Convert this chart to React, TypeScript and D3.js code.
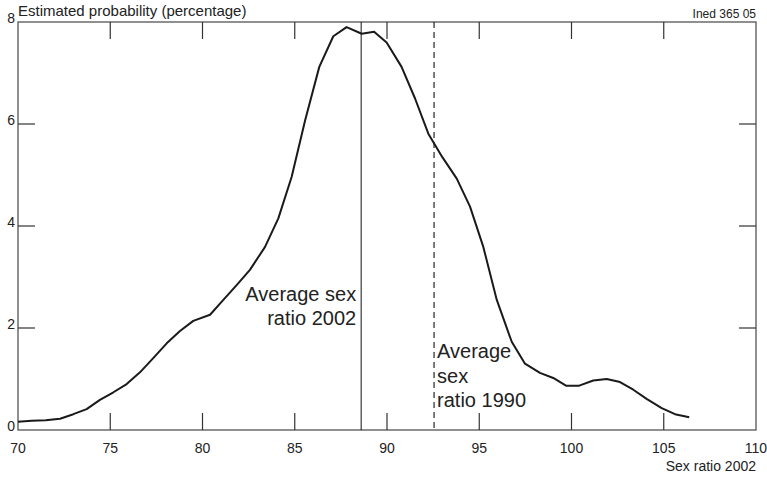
import React from 'react';
import * as d3 from 'd3';

// sex ratio 2002 (x) and estimated probability in % (y)
const sexRatio = [70.0, 70.74, 71.5, 72.28, 73.0, 73.72, 74.44, 75.17, 75.89, 76.61, 77.33, 78.06, 78.78, 79.5, 80.41, 81.13, 81.85, 82.57, 83.39, 84.11, 84.83, 85.56, 86.33, 87.09, 87.81, 88.63, 89.3, 89.98, 90.79, 91.52, 92.24, 93.0, 93.78, 94.5, 95.22, 95.95, 96.76, 97.48, 98.29, 99.01, 99.7, 100.42, 101.18, 101.91, 102.63, 103.35, 104.07, 104.89, 105.61, 106.38];
const probability = [0.16, 0.18, 0.19, 0.22, 0.31, 0.41, 0.59, 0.74, 0.9, 1.13, 1.41, 1.7, 1.94, 2.14, 2.26, 2.55, 2.84, 3.14, 3.59, 4.15, 4.96, 6.07, 7.12, 7.72, 7.9, 7.77, 7.81, 7.6, 7.12, 6.5, 5.81, 5.35, 4.93, 4.38, 3.59, 2.55, 1.73, 1.3, 1.12, 1.02, 0.87, 0.87, 0.97, 1.0, 0.94, 0.79, 0.61, 0.43, 0.31, 0.25];

const xTicks = [70, 75, 80, 85, 90, 95, 100, 105, 110];
const yTicks = [0, 2, 4, 6, 8];
const avg2002 = 88.6;
const avg1990 = 92.55;

const W = 767;
const H = 478;
const margin = { top: 22, right: 11, bottom: 48, left: 18 };
const font = '"Liberation Sans", Arial, sans-serif';

export default function App() {
  const x = d3.scaleLinear().domain([70, 110]).range([margin.left, W - margin.right]);
  const y = d3.scaleLinear().domain([0, 8]).range([H - margin.bottom, margin.top]);
  const pts = sexRatio.map((v, i) => [v, probability[i]] as [number, number]);
  const line = d3.line<[number, number]>().x(d => x(d[0])).y(d => y(d[1]));
  const tickLen = 17;
  const x0 = x(70), x1 = x(110), y0 = y(0), y1 = y(8);
  const inner = xTicks.filter(t => t > 70 && t < 110);
  const innerY = yTicks.filter(t => t > 0 && t < 8);

  return (
    <svg width={W} height={H} style={{ position: 'absolute', left: 0, top: 0, background: '#fff' }} fontFamily={font}>
      {/* frame */}
      <rect x={x0} y={y1} width={x1 - x0} height={y0 - y1} fill="none" stroke="#555" strokeWidth={1.3} />

      {/* inward ticks */}
      <g stroke="#333" strokeWidth={1.2}>
        {inner.map(t => (
          <g key={'xt' + t}>
            <line x1={x(t)} x2={x(t)} y1={y0} y2={y0 - tickLen} />
            <line x1={x(t)} x2={x(t)} y1={y1} y2={y1 + tickLen} />
          </g>
        ))}
        {innerY.map(t => (
          <g key={'yt' + t}>
            <line x1={x0} x2={x0 + tickLen} y1={y(t)} y2={y(t)} />
            <line x1={x1} x2={x1 - tickLen} y1={y(t)} y2={y(t)} />
          </g>
        ))}
      </g>

      {/* tick labels */}
      <g fontSize={14} fill="#222">
        {xTicks.map(t => (
          <text key={'xl' + t} x={x(t)} y={y0 + 23} textAnchor="middle">{t}</text>
        ))}
        {yTicks.map(t => (
          <text key={'yl' + t} x={x0 - 3} y={y(t) + 0.5} textAnchor="end">{t}</text>
        ))}
      </g>

      {/* average lines */}
      <line x1={x(avg2002)} x2={x(avg2002)} y1={y1} y2={y0} stroke="#111" strokeWidth={1} />
      <line x1={x(avg1990)} x2={x(avg1990)} y1={y1} y2={y0} stroke="#111" strokeWidth={1.1} strokeDasharray="6,4" />

      {/* curve */}
      <path d={line(pts) || ''} fill="none" stroke="#1a1a1a" strokeWidth={2} strokeLinejoin="round" />

      {/* annotations */}
      <g fontSize={20} fill="#222">
        <text x={x(avg2002) - 5} y={301} textAnchor="end">Average sex</text>
        <text x={x(avg2002) - 5} y={325} textAnchor="end">ratio 2002</text>
        <text x={x(avg1990) + 3} y={358} textAnchor="start">Average</text>
        <text x={x(avg1990) + 3} y={383} textAnchor="start">sex</text>
        <text x={x(avg1990) + 3} y={407} textAnchor="start">ratio 1990</text>
      </g>

      <text x={x0} y={16} fontSize={15} fill="#222">Estimated probability (percentage)</text>
      <text x={x1} y={18} fontSize={12} fill="#222" textAnchor="end">Ined 365 05</text>
      <text x={x1} y={471} fontSize={14} fill="#222" textAnchor="end">Sex ratio 2002</text>
    </svg>
  );
}
